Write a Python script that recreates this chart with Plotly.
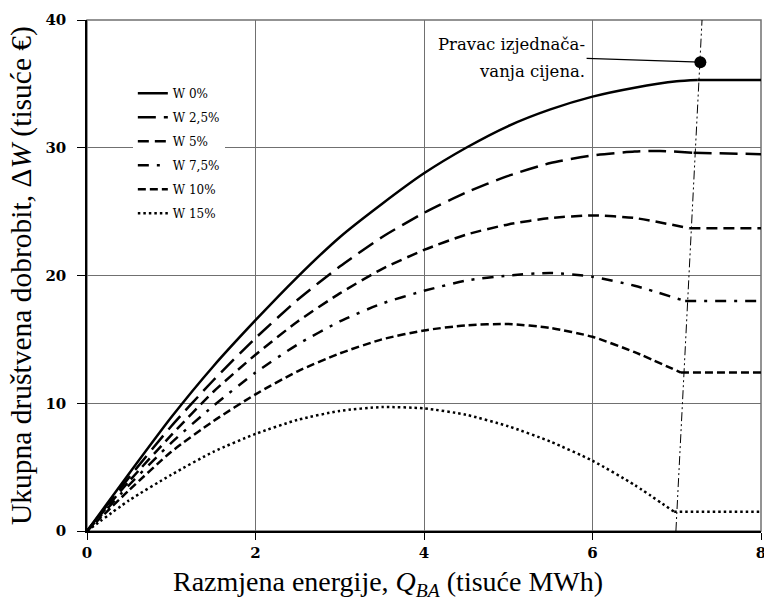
import plotly.graph_objects as go

# Razmjena energije (tisuće MWh) i ukupna društvena dobrobit (tisuće €)
# zadnje dvije točke svake serije: lom na pravcu izjednačavanja i ravni dio do 8
x_w0 = [0, 0.5, 1, 1.5, 2, 2.5, 3, 3.5, 4, 4.5, 5, 5.5, 6, 6.5, 7, 7.25, 8]
y_w0 = [0, 4.5, 8.9, 12.9, 16.5, 19.9, 23.0, 25.6, 28.0, 30.0, 31.7, 33.0, 34.0, 34.7, 35.2, 35.3, 35.3]

x_w25 = [0, 0.5, 1, 1.5, 2, 2.5, 3, 3.5, 4, 4.5, 5, 5.5, 6, 6.5, 6.8, 7.2, 8]
y_w25 = [0, 4.2, 8.2, 11.8, 15.1, 18.1, 20.7, 23.0, 24.9, 26.5, 27.8, 28.8, 29.4, 29.7, 29.75, 29.6, 29.5]

x_w5 = [0, 0.5, 1, 1.5, 2, 2.5, 3, 3.5, 4, 4.5, 5, 5.5, 6, 6.5, 7.15, 8]
y_w5 = [0, 3.9, 7.5, 10.9, 13.8, 16.4, 18.6, 20.5, 22.0, 23.2, 24.0, 24.5, 24.7, 24.5, 23.7, 23.7]

x_w75 = [0, 0.5, 1, 1.5, 2, 2.5, 3, 3.5, 4, 4.5, 5, 5.5, 6, 6.5, 7.1, 7.95]
y_w75 = [0, 3.6, 6.9, 9.8, 12.4, 14.6, 16.4, 17.8, 18.8, 19.6, 20.0, 20.2, 19.9, 19.2, 18.0, 18.0]

x_w10 = [0, 0.5, 1, 1.5, 2, 2.5, 3, 3.5, 4, 4.5, 5, 5.5, 6, 6.5, 7.05, 8]
y_w10 = [0, 3.2, 6.2, 8.6, 10.7, 12.5, 13.9, 15.0, 15.7, 16.1, 16.2, 15.9, 15.2, 14.0, 12.4, 12.4]

x_w15 = [0, 0.5, 1, 1.5, 2, 2.5, 3, 3.5, 4, 4.5, 5, 5.5, 6, 6.5, 6.97, 8]
y_w15 = [0, 2.4, 4.4, 6.2, 7.6, 8.7, 9.4, 9.7, 9.6, 9.1, 8.2, 7.0, 5.5, 3.6, 1.5, 1.5]

# pravac izjednačavanja cijena
x_eq = [6.99, 7.30]
y_eq = [0, 40]
x_dot = [7.28]
y_dot = [36.7]
x_lead = [5.93, 7.28]
y_lead = [37.0, 36.7]

series = [
    ("W 0%", x_w0, y_w0, "solid"),
    ("W 2,5%", x_w25, y_w25, "18px,8px"),
    ("W 5%", x_w5, y_w5, "11px,6px"),
    ("W 7,5%", x_w75, y_w75, "11px,8px,3px,8px"),
    ("W 10%", x_w10, y_w10, "8px,4px"),
    ("W 15%", x_w15, y_w15, "2.5px,3px"),
]

SERIF = "Liberation Serif, Times New Roman, serif"
WIDE_SERIF = "DejaVu Serif, serif"

fig = go.Figure()

for name, xs, ys, dash in series:
    # zakrivljeni dio
    fig.add_trace(
        go.Scatter(
            x=xs[:-1],
            y=ys[:-1],
            mode="lines",
            name=name,
            legendgroup=name,
            line=dict(color="black", width=2.5, dash=dash, shape="spline", smoothing=0.6),
        )
    )
    # ravni dio nakon pravca izjednačavanja
    fig.add_trace(
        go.Scatter(
            x=xs[-2:],
            y=ys[-2:],
            mode="lines",
            legendgroup=name,
            showlegend=False,
            line=dict(color="black", width=2.5, dash=dash),
        )
    )

fig.add_trace(
    go.Scatter(
        x=x_eq,
        y=y_eq,
        mode="lines",
        line=dict(color="black", width=1, dash="9px,3px,2px,3px,2px,3px"),
        showlegend=False,
        hoverinfo="none",
    )
)
fig.add_trace(
    go.Scatter(
        x=x_lead,
        y=y_lead,
        mode="lines",
        line=dict(color="black", width=1.2),
        showlegend=False,
        hoverinfo="none",
    )
)
fig.add_trace(
    go.Scatter(
        x=x_dot,
        y=y_dot,
        mode="markers",
        marker=dict(color="black", size=12),
        showlegend=False,
    )
)

fig.add_annotation(
    x=5.93, y=38.1, xref="x", yref="y",
    text="Pravac izjednača-",
    showarrow=False, xanchor="right", yanchor="middle",
    font=dict(family=WIDE_SERIF, size=16.5, color="black"),
)
fig.add_annotation(
    x=5.93, y=35.95, xref="x", yref="y",
    text="vanja cijena.",
    showarrow=False, xanchor="right", yanchor="middle",
    font=dict(family=WIDE_SERIF, size=16.5, color="black"),
)

# naslovi osi
fig.add_annotation(
    x=0.447, y=-0.102, xref="paper", yref="paper",
    text="Razmjena energije, <i>Q</i><sub><i>BA</i></sub> (tisuće MWh)",
    showarrow=False, xanchor="center", yanchor="middle",
    font=dict(family=SERIF, size=28, color="black"),
)
fig.add_annotation(
    x=-0.097, y=0.5, xref="paper", yref="paper",
    text="Ukupna društvena dobrobit, Δ<i>W</i> (tisuće €)",
    showarrow=False, xanchor="center", yanchor="middle", textangle=-90,
    font=dict(family=SERIF, size=29.5, color="black"),
)

# sivi okvir gore i desno
fig.add_shape(
    type="rect", xref="x domain", yref="y domain", x0=0, y0=0, x1=1, y1=1,
    line=dict(color="#707070", width=1.5), layer="below",
)

tick_font = dict(family=WIDE_SERIF, size=15, color="black", weight="bold")

fig.update_layout(
    width=764,
    height=606,
    margin=dict(l=87, r=3, t=20, b=75),
    plot_bgcolor="white",
    paper_bgcolor="white",
    legend=dict(
        x=0.068, y=0.885, xanchor="left", yanchor="top",
        bgcolor="white",
        font=dict(family=WIDE_SERIF, size=12, color="black"),
        itemwidth=30,
        tracegroupgap=5,
    ),
    xaxis=dict(
        range=[0, 8],
        dtick=2,
        showgrid=True,
        gridcolor="#707070",
        gridwidth=1.2,
        zeroline=False,
        showline=True,
        linecolor="black",
        linewidth=1.5,
        ticks="outside",
        ticklen=7,
        tickcolor="black",
        tickfont=tick_font,
        ticklabeloverflow="allow",
        automargin=False,
    ),
    yaxis=dict(
        range=[0, 40],
        dtick=10,
        showgrid=True,
        gridcolor="#707070",
        gridwidth=1.2,
        zeroline=False,
        showline=True,
        linecolor="black",
        linewidth=1.5,
        ticks="outside",
        ticklen=8,
        ticklabelstandoff=8,
        tickcolor="black",
        tickfont=tick_font,
        automargin=False,
    ),
)

# bez zadane margine stranice, da graf počne u kutu prozora
fig.write_html(
    "out.html",
    config={"displayModeBar": False},
    post_script="document.body.style.margin = '0px';",
)
